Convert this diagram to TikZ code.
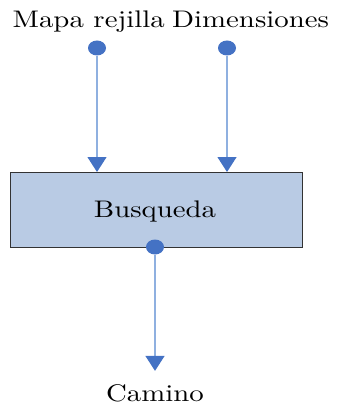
\documentclass[tikz,border=0pt]{standalone}
\usepackage{fontspec}
\setmainfont{lmroman10-regular}[Extension=.otf, FakeStretch=1.2]
\usetikzlibrary{positioning, arrows.meta, shapes.geometric}
\definecolor{azul}{HTML}{4472C4}
\definecolor{celeste}{HTML}{8FB0E0}
\definecolor{caja}{HTML}{B9CBE4}
\tikzset{
  flujo/.style={draw=celeste, line width=1.3pt, -{Triangle[width=19pt, length=15pt, color=azul]}},
  punto/.style={ellipse, fill=azul, inner sep=0pt, minimum width=18pt, minimum height=15pt},
  etiqueta/.style={font=\fontsize{24}{28}\selectfont, inner sep=0pt}
}
\begin{document}
\begin{tikzpicture}[x=1pt, y=-1pt]
    \useasboundingbox (0,0) rectangle (337,406);

    % Entradas
    \node[etiqueta, anchor=base east] (mapa) at (165,28) {Mapa rejilla};
    \node[etiqueta, anchor=base west] (dims) at (172,28) {Dimensiones};

    % Bloque de busqueda
    \node[draw=black!80, fill=caja, line width=0.8pt, minimum width=292pt, minimum height=75pt, anchor=north west] (busq) at (10,172) {};
    \node[etiqueta, anchor=base] (txt) at (155,217) {Busqueda};

    % Salida
    \node[etiqueta, anchor=base] (camino) at (155,401) {Camino};

    % Puntos de conexion
    \node[punto] (p1) at (97,48) {};
    \node[punto] (p2) at (227,48) {};
    \node[punto] (p3) at (155,247) {};

    % Flechas
    \draw[flujo] (p1) -- (busq.north -| p1);
    \draw[flujo] (p2) -- (busq.north -| p2);
    \draw[flujo, shorten >=13pt] (p3) -- (camino.north);
\end{tikzpicture}
\end{document}
